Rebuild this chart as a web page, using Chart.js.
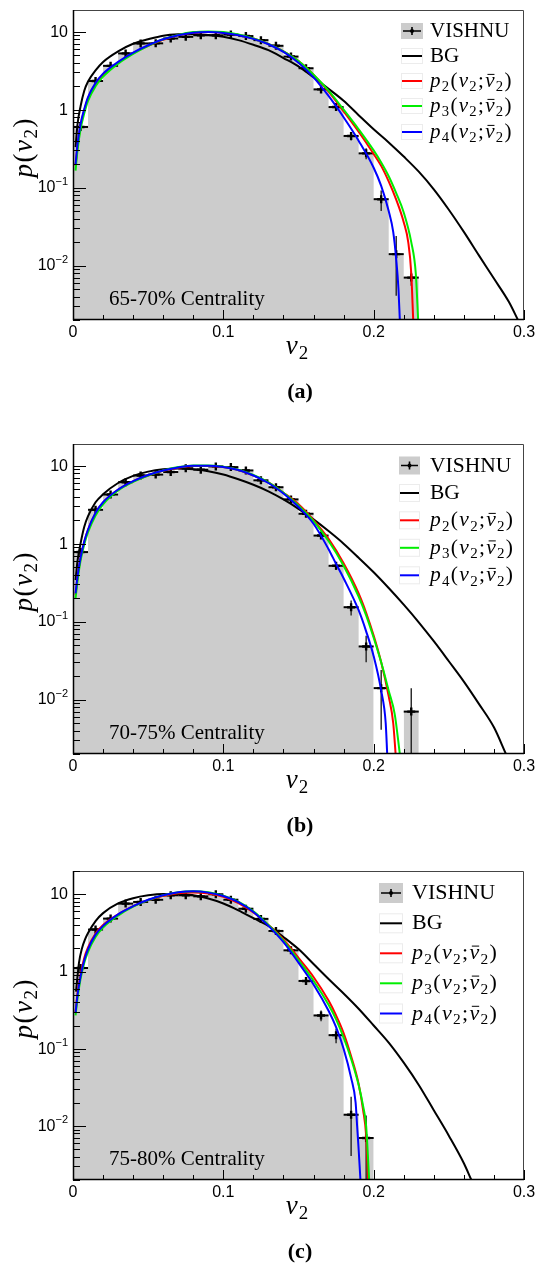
<!DOCTYPE html>
<html>
<head>
<meta charset="utf-8">
<script src="https://cdn.jsdelivr.net/npm/chart.js@4.4.1/dist/chart.umd.min.js"></script>
<style>
  html, body { margin: 0; padding: 0; background: #fff; }
  body { position: relative; width: 538px; height: 1264px; overflow: hidden; }
  canvas { position: absolute; left: 0; }
</style>
</head>
<body>
<canvas id="panelA" width="538" height="434" style="top:0px"></canvas>
<canvas id="panelB" width="538" height="427" style="top:434px"></canvas>
<canvas id="panelC" width="538" height="403" style="top:861px"></canvas>
<script>
const SERIF = '"Liberation Serif", "Times New Roman", serif';
const SANS = '"Liberation Sans", Arial, sans-serif';

// VISHNU event-by-event v2 histograms, 0.01-wide bins
const binEdges = [0, 0.01, 0.02, 0.03, 0.04, 0.05, 0.06, 0.07, 0.08, 0.09, 0.1, 0.11,
                  0.12, 0.13, 0.14, 0.15, 0.16, 0.17, 0.18, 0.19, 0.2, 0.21, 0.22, 0.23];

const vishnuA    = [0.6, 2.33, 3.65, 5.27, 7.08, 7.1, 8.2, 8.6, 9.0, 9.0, 9.2, 8.8, 7.8, 6.6, 4.8, 3.4, 1.82, 1.08, 0.46, 0.275, 0.071, 0.014, 0.007];
const vishnuErrA = [0.06, 0.13, 0.16, 0.19, 0.22, 0.22, 0.24, 0.25, 0.25, 0.25, 0.25, 0.25, 0.23, 0.21, 0.18, 0.15, 0.11, 0.087, 0.057, 0.044, 0.021, 0.0099, 0.0015];

const vishnuB    = [0.78, 2.72, 4.27, 6.15, 7.5, 7.7, 8.3, 9.3, 8.9, 9.8, 9.6, 8.7, 6.5, 5.3, 3.7, 2.42, 1.27, 0.52, 0.153, 0.048, 0.014, 0, 0.007];
const vishnuErrB = [0.074, 0.14, 0.17, 0.21, 0.23, 0.23, 0.24, 0.26, 0.25, 0.26, 0.26, 0.25, 0.21, 0.19, 0.16, 0.13, 0.094, 0.06, 0.033, 0.018, 0.0099, 0, 0.007];

const vishnuC    = [1.11, 3.49, 4.84, 7.57, 7.95, 8.5, 9.7, 9.7, 9.4, 10.0, 8.5, 6.5, 4.8, 3.35, 1.88, 0.755, 0.27, 0.15, 0.014, 0.007];
const vishnuErrC = [0.088, 0.16, 0.18, 0.23, 0.24, 0.24, 0.26, 0.26, 0.26, 0.26, 0.24, 0.21, 0.18, 0.15, 0.11, 0.073, 0.043, 0.032, 0.0099, 0.0067];

// 65-70% fits
const bgA_v = [0.0017, 0.003, 0.005, 0.0075, 0.01, 0.015, 0.02, 0.03, 0.04, 0.05, 0.06, 0.07, 0.08, 0.09, 0.1, 0.11, 0.12, 0.13, 0.14, 0.15, 0.16, 0.17, 0.18, 0.19, 0.2, 0.21, 0.22, 0.23, 0.24, 0.25, 0.26, 0.27, 0.28, 0.29, 0.296];
const bgA_p = [0.33, 0.65, 1.1, 1.75, 2.3, 3.2, 4.1, 5.6, 7.0, 8.0, 8.9, 9.25, 9.3, 9.1, 8.6, 7.8, 6.8, 5.8, 4.6, 3.6, 2.6, 1.85, 1.3, 0.85, 0.56, 0.38, 0.25, 0.16, 0.095, 0.052, 0.027, 0.0135, 0.0068, 0.0034, 0.002];
const p2A_v = [0.0017, 0.003, 0.005, 0.0075, 0.01, 0.015, 0.02, 0.03, 0.04, 0.05, 0.06, 0.07, 0.08, 0.09, 0.1, 0.11, 0.12, 0.13, 0.14, 0.15, 0.16, 0.17, 0.18, 0.19, 0.2, 0.205, 0.21, 0.215, 0.22, 0.223, 0.225, 0.2263];
const p2A_p = [0.19, 0.33, 0.62, 0.98, 1.4, 2.15, 2.8, 4.0, 5.3, 6.6, 7.9, 9.0, 9.7, 9.9, 9.7, 9.1, 8.2, 7.0, 5.6, 4.2, 2.8, 1.7, 0.95, 0.52, 0.27, 0.19, 0.12, 0.07, 0.036, 0.02, 0.008, 0.002];
const p3A_v = [0.0017, 0.003, 0.005, 0.0075, 0.01, 0.015, 0.02, 0.03, 0.04, 0.05, 0.06, 0.07, 0.08, 0.09, 0.1, 0.11, 0.12, 0.13, 0.14, 0.15, 0.16, 0.17, 0.18, 0.19, 0.2, 0.205, 0.21, 0.215, 0.22, 0.225, 0.228, 0.2296];
const p3A_p = [0.165, 0.3, 0.56, 0.9, 1.3, 2.0, 2.65, 3.9, 5.2, 6.6, 8.0, 9.1, 9.9, 10.1, 9.9, 9.2, 8.2, 7.0, 5.6, 4.2, 2.8, 1.75, 1.0, 0.56, 0.3, 0.21, 0.14, 0.085, 0.048, 0.02, 0.008, 0.002];
const p4A_v = [0.0017, 0.003, 0.005, 0.0075, 0.01, 0.015, 0.02, 0.03, 0.04, 0.05, 0.06, 0.07, 0.08, 0.09, 0.1, 0.11, 0.12, 0.13, 0.14, 0.15, 0.16, 0.17, 0.18, 0.19, 0.2, 0.205, 0.21, 0.213, 0.215, 0.2165, 0.2174];
const p4A_p = [0.2, 0.36, 0.65, 1.02, 1.45, 2.2, 2.9, 4.1, 5.4, 6.7, 8.0, 9.0, 9.7, 9.9, 9.6, 9.0, 8.1, 6.9, 5.5, 4.0, 2.6, 1.5, 0.8, 0.4, 0.18, 0.105, 0.05, 0.027, 0.012, 0.005, 0.002];

// 70-75% fits
const bgB_v = [0.0017, 0.003, 0.005, 0.0075, 0.01, 0.015, 0.02, 0.03, 0.04, 0.05, 0.06, 0.07, 0.08, 0.09, 0.1, 0.11, 0.12, 0.13, 0.14, 0.15, 0.16, 0.17, 0.18, 0.19, 0.2, 0.21, 0.22, 0.23, 0.24, 0.25, 0.26, 0.27, 0.28, 0.288];
const bgB_p = [0.34, 0.6, 1.0, 1.65, 2.25, 3.4, 4.3, 6.0, 7.4, 8.4, 9.0, 9.2, 9.0, 8.5, 7.7, 6.7, 5.7, 4.7, 3.7, 2.8, 2.05, 1.45, 1.0, 0.66, 0.43, 0.27, 0.165, 0.098, 0.056, 0.031, 0.017, 0.0088, 0.0044, 0.002];
const p2B_v = [0.0017, 0.003, 0.005, 0.0075, 0.01, 0.015, 0.02, 0.03, 0.04, 0.05, 0.06, 0.07, 0.08, 0.09, 0.1, 0.11, 0.12, 0.13, 0.14, 0.15, 0.16, 0.17, 0.18, 0.19, 0.195, 0.2, 0.205, 0.21, 0.213, 0.2146];
const p2B_p = [0.22, 0.37, 0.65, 1.05, 1.5, 2.45, 3.35, 4.9, 6.3, 7.5, 8.6, 9.4, 9.9, 9.95, 9.6, 8.8, 7.5, 6.1, 4.5, 3.2, 2.0, 1.15, 0.56, 0.23, 0.13, 0.066, 0.03, 0.011, 0.005, 0.002];
const p3B_v = [0.0017, 0.003, 0.005, 0.0075, 0.01, 0.015, 0.02, 0.03, 0.04, 0.05, 0.06, 0.07, 0.08, 0.09, 0.1, 0.11, 0.12, 0.13, 0.14, 0.15, 0.16, 0.17, 0.18, 0.19, 0.195, 0.2, 0.205, 0.21, 0.214, 0.2174];
const p3B_p = [0.2, 0.33, 0.6, 0.98, 1.4, 2.3, 3.2, 4.8, 6.2, 7.5, 8.7, 9.6, 10.1, 10.1, 9.7, 8.9, 7.6, 6.1, 4.5, 3.1, 1.95, 1.08, 0.52, 0.21, 0.12, 0.062, 0.03, 0.013, 0.0065, 0.002];
const p4B_v = [0.0017, 0.003, 0.005, 0.0075, 0.01, 0.015, 0.02, 0.03, 0.04, 0.05, 0.06, 0.07, 0.08, 0.09, 0.1, 0.11, 0.12, 0.13, 0.14, 0.15, 0.16, 0.17, 0.175, 0.18, 0.19, 0.195, 0.2, 0.205, 0.208, 0.209];
const p4B_p = [0.23, 0.38, 0.66, 1.07, 1.52, 2.5, 3.4, 4.95, 6.35, 7.6, 8.7, 9.5, 10.0, 10.0, 9.6, 8.8, 7.5, 6.0, 4.4, 2.95, 1.8, 0.85, 0.55, 0.36, 0.14, 0.075, 0.036, 0.013, 0.005, 0.002];

// 75-80% fits
const bgC_v = [0.002, 0.004, 0.006, 0.008, 0.01, 0.015, 0.02, 0.03, 0.04, 0.05, 0.06, 0.07, 0.08, 0.09, 0.1, 0.11, 0.12, 0.13, 0.14, 0.15, 0.16, 0.17, 0.18, 0.19, 0.2, 0.21, 0.22, 0.23, 0.24, 0.25, 0.26, 0.265];
const bgC_p = [0.55, 1.3, 2.0, 2.6, 3.15, 4.5, 5.7, 7.6, 8.9, 9.7, 10.1, 10.1, 9.7, 8.8, 7.6, 6.2, 4.9, 3.9, 2.8, 1.95, 1.25, 0.8, 0.52, 0.33, 0.2, 0.12, 0.066, 0.034, 0.016, 0.0075, 0.0033, 0.002];
const p2C_v = [0.0017, 0.003, 0.005, 0.0075, 0.01, 0.015, 0.02, 0.03, 0.04, 0.05, 0.06, 0.07, 0.08, 0.09, 0.1, 0.11, 0.12, 0.13, 0.14, 0.15, 0.16, 0.17, 0.175, 0.18, 0.185, 0.19, 0.193, 0.195, 0.1963];
const p2C_p = [0.3, 0.52, 0.9, 1.5, 2.05, 3.1, 4.0, 5.5, 7.0, 8.4, 9.5, 10.3, 10.5, 10.2, 9.3, 7.7, 5.8, 4.0, 2.6, 1.5, 0.85, 0.42, 0.27, 0.16, 0.08, 0.035, 0.016, 0.0075, 0.002];
const p3C_v = [0.0017, 0.003, 0.005, 0.0075, 0.01, 0.015, 0.02, 0.03, 0.04, 0.05, 0.06, 0.07, 0.08, 0.09, 0.1, 0.11, 0.12, 0.13, 0.14, 0.15, 0.16, 0.17, 0.175, 0.18, 0.185, 0.19, 0.193, 0.195, 0.197];
const p3C_p = [0.27, 0.45, 0.8, 1.3, 1.8, 2.8, 3.7, 5.3, 6.9, 8.4, 9.7, 10.6, 10.9, 10.6, 9.6, 8.0, 6.0, 4.0, 2.5, 1.4, 0.76, 0.37, 0.24, 0.14, 0.074, 0.034, 0.018, 0.01, 0.002];
const p4C_v = [0.0017, 0.003, 0.005, 0.0075, 0.01, 0.015, 0.02, 0.03, 0.04, 0.05, 0.06, 0.07, 0.08, 0.09, 0.1, 0.11, 0.12, 0.13, 0.14, 0.15, 0.16, 0.17, 0.175, 0.18, 0.185, 0.188, 0.189, 0.19, 0.1912];
const p4C_p = [0.29, 0.5, 0.86, 1.4, 1.95, 3.0, 3.9, 5.5, 7.0, 8.5, 9.7, 10.6, 10.9, 10.5, 9.5, 7.9, 5.9, 3.9, 2.4, 1.3, 0.68, 0.31, 0.19, 0.1, 0.042, 0.02, 0.01, 0.005, 0.002];

// axes
const X_MIN = 0, X_MAX = 0.3, Y_MIN = 0.002;
const xMajorTicks = [0, 0.1, 0.2, 0.3];
const xTickLabels = ['0', '0.1', '0.2', '0.3'];
const yDecades = [0.01, 0.1, 1, 10];
const yDecadeLabels = [['10', '\u22122'], ['10', '\u22121'], ['1', ''], ['10', '']];

// legend / title text as styled runs
const pn = n => [{t: 'p', it: 1}, {t: n, sub: 1}, {t: '('}, {t: 'v', it: 1}, {t: '2', sub: 1},
                 {t: ';'}, {t: 'v', it: 1, bar: 1}, {t: '2', sub: 1}, {t: ')'}];
const legendEntries = [
  {kind: 'hist', text: [{t: 'VISHNU'}]},
  {kind: 'line', color: '#000000', text: [{t: 'BG'}]},
  {kind: 'line', color: '#ff0000', text: pn('2')},
  {kind: 'line', color: '#00ee00', text: pn('3')},
  {kind: 'line', color: '#0000ff', text: pn('4')}
];
const yTitle = [{t: 'p', it: 1}, {t: '('}, {t: 'v', it: 1}, {t: '2', sub: 1}, {t: ')'}];
const xTitle = [{t: 'v', it: 1}, {t: '2', sub: 1}];

function segFont(s, size) {
  const sz = s.sub ? size * 0.7 : size;
  return (s.it ? 'italic ' : '') + (s.bold ? 'bold ' : '') + sz.toFixed(1) + 'px ' + SERIF;
}
function richWidth(ctx, segs, size, gap) {
  let w = 0;
  segs.forEach((s, i) => {
    ctx.font = segFont(s, size);
    w += ctx.measureText(s.t).width + (i < segs.length - 1 ? gap : 0);
  });
  return w;
}
function drawRich(ctx, segs, x, y, size, gap) {
  ctx.fillStyle = '#000';
  ctx.textAlign = 'left';
  ctx.textBaseline = 'alphabetic';
  let cx = x;
  segs.forEach(s => {
    ctx.font = segFont(s, size);
    const w = ctx.measureText(s.t).width;
    ctx.fillText(s.t, cx, s.sub ? y + size * 0.2 : y);
    if (s.bar) {
      ctx.strokeStyle = '#000';
      ctx.lineWidth = 1;
      ctx.beginPath();
      ctx.moveTo(cx + w * 0.25, y - size * 0.6);
      ctx.lineTo(cx + w * 1.0, y - size * 0.6);
      ctx.stroke();
    }
    cx += w + gap;
  });
}

const pts = (xs, ys) => xs.map((x, i) => ({x, y: ys[i]}));
function histPoints(vals) {
  const out = vals.map((v, i) => ({x: binEdges[i], y: v}));
  out.push({x: binEdges[vals.length], y: vals[vals.length - 1]});
  return out;
}
function markerPoints(vals) {
  return vals.map((v, i) => ({x: (binEdges[i] + binEdges[i + 1]) / 2, y: v > 0 ? v : null}));
}

function makeDecor(p) {
  return {
    id: 'decor_' + p.id,
    afterDatasetDraw(chart, args) {
      if (args.index !== 0) return;
      // bin-width and statistical error bars on the VISHNU histogram
      const ctx = chart.ctx, ca = chart.chartArea, xs = chart.scales.x, ys = chart.scales.y;
      ctx.save();
      ctx.beginPath();
      ctx.rect(ca.left, ca.top, ca.right - ca.left, ca.bottom - ca.top);
      ctx.clip();
      p.vals.forEach((v, i) => {
        if (!(v > 0)) return;
        const lo = binEdges[i], hi = binEdges[i + 1], e = p.errs[i];
        const px = xs.getPixelForValue((lo + hi) / 2), py = ys.getPixelForValue(v);
        ctx.strokeStyle = '#000';
        ctx.lineWidth = 2;
        ctx.beginPath();
        ctx.moveTo(xs.getPixelForValue(lo), py);
        ctx.lineTo(xs.getPixelForValue(hi), py);
        ctx.stroke();
        const top = ys.getPixelForValue(v + e);
        const bot = v - e > 1e-9 ? ys.getPixelForValue(v - e) : ca.bottom;
        ctx.strokeStyle = '#222';
        ctx.lineWidth = 1.4;
        ctx.beginPath();
        ctx.moveTo(px, top);
        ctx.lineTo(px, bot);
        ctx.stroke();
      });
      ctx.restore();
    },
    afterDraw(chart) {
      const ctx = chart.ctx, ca = chart.chartArea, xs = chart.scales.x, ys = chart.scales.y;
      ctx.save();

      // frame
      ctx.strokeStyle = '#444';
      ctx.lineWidth = 1;
      ctx.beginPath();
      ctx.moveTo(ca.left, ca.top + 0.5);
      ctx.lineTo(ca.right - 0.5, ca.top + 0.5);
      ctx.lineTo(ca.right - 0.5, ca.bottom);
      ctx.stroke();
      ctx.strokeStyle = '#000';
      ctx.lineWidth = 1.5;
      ctx.beginPath();
      ctx.moveTo(ca.left + 0.5, ca.top);
      ctx.lineTo(ca.left + 0.5, ca.bottom - 0.5);
      ctx.lineTo(ca.right, ca.bottom - 0.5);
      ctx.stroke();

      // x ticks (inside), major every 0.1, minor every 0.02
      ctx.lineWidth = 1;
      for (let k = 1; k <= 15; k++) {
        const x = Math.round(xs.getPixelForValue(k * 0.02)) + 0.5;
        const len = k % 5 === 0 ? 10 : 5;
        ctx.beginPath();
        ctx.moveTo(x, ca.bottom);
        ctx.lineTo(x, ca.bottom - len);
        ctx.stroke();
      }
      // y ticks (inside), log decades with 2..9 minors
      for (let e = -3; e <= 1; e++) {
        for (let d = 1; d <= 9; d++) {
          const v = d * Math.pow(10, e);
          if (v < ys.min * 0.999 || v > ys.max) continue;
          const y = Math.round(ys.getPixelForValue(v)) + 0.5;
          ctx.beginPath();
          ctx.moveTo(ca.left, y);
          ctx.lineTo(ca.left + (d === 1 ? 13 : 7), y);
          ctx.stroke();
        }
      }

      // tick labels
      ctx.fillStyle = '#000';
      ctx.font = '16px ' + SANS;
      ctx.textAlign = 'center';
      ctx.textBaseline = 'middle';
      xMajorTicks.forEach((v, i) => ctx.fillText(xTickLabels[i], xs.getPixelForValue(v), ca.bottom + 12.5));
      yDecades.forEach((v, i) => {
        const y = ys.getPixelForValue(v);
        const [base, exp] = yDecadeLabels[i];
        const right = ca.left - 5;
        ctx.textAlign = 'right';
        let supW = 0;
        if (exp) {
          ctx.font = '11px ' + SANS;
          supW = ctx.measureText(exp).width;
          ctx.fillText(exp, right, y - 6);
        }
        ctx.font = '16px ' + SANS;
        ctx.fillText(base, right - supW, y + 0.5);
      });

      // axis titles
      ctx.save();
      ctx.translate(32, ca.top + 138);
      ctx.rotate(-Math.PI / 2);
      const wy = richWidth(ctx, yTitle, 27, 1.5);
      drawRich(ctx, yTitle, -wy / 2, 0, 27, 1.5);
      ctx.restore();
      const wx = richWidth(ctx, xTitle, 27, 1);
      drawRich(ctx, xTitle, 297 - wx / 2, ca.bottom + 34, 27, 1);

      // panel tag
      ctx.font = 'bold 22px ' + SERIF;
      ctx.textAlign = 'center';
      ctx.textBaseline = 'alphabetic';
      ctx.fillStyle = '#000';
      ctx.fillText(p.tag, 300, ca.bottom + 78);

      // centrality label
      ctx.font = '21px ' + SERIF;
      ctx.textAlign = 'left';
      ctx.fillText(p.cent, 109, ca.bottom - 15);

      // legend
      legendEntries.forEach((en, i) => {
        const yc = p.legY[i], x0 = p.legX, w = p.legW, h = p.legH;
        if (en.kind === 'hist') {
          ctx.fillStyle = '#cccccc';
          ctx.fillRect(x0, yc - h / 2, w, h);
          ctx.strokeStyle = '#000';
          ctx.lineWidth = 1.6;
          ctx.beginPath();
          ctx.moveTo(x0 + 2, yc); ctx.lineTo(x0 + w - 2, yc);
          ctx.moveTo(x0 + w / 2, yc - 4); ctx.lineTo(x0 + w / 2, yc + 4);
          ctx.stroke();
          ctx.fillStyle = '#000';
          ctx.beginPath(); ctx.arc(x0 + w / 2, yc, 2, 0, Math.PI * 2); ctx.fill();
        } else {
          ctx.strokeStyle = '#ececec';
          ctx.lineWidth = 1;
          ctx.strokeRect(x0 + 0.5, yc - h / 2 + 0.5, w - 1, h - 1);
          ctx.strokeStyle = en.color;
          ctx.lineWidth = 2;
          ctx.beginPath();
          ctx.moveTo(x0 + 1, yc); ctx.lineTo(x0 + w - 1, yc);
          ctx.stroke();
        }
        drawRich(ctx, en.text, p.legTX, yc + 6, p.legFont, 1.3);
      });

      ctx.restore();
    }
  };
}

const panels = [
  {id: 'panelA', height: 434, plotH: 310, yMax: 19, vals: vishnuA, errs: vishnuErrA,
   curves: [[bgA_v, bgA_p], [p2A_v, p2A_p], [p3A_v, p3A_p], [p4A_v, p4A_p]],
   tag: '(a)', cent: '65-70% Centrality',
   legY: [31, 56, 81, 106, 132], legX: 401, legW: 22, legH: 16, legTX: 430, legFont: 21},
  {id: 'panelB', height: 427, plotH: 310, yMax: 19, vals: vishnuB, errs: vishnuErrB,
   curves: [[bgB_v, bgB_p], [p2B_v, p2B_p], [p3B_v, p3B_p], [p4B_v, p4B_p]],
   tag: '(b)', cent: '70-75% Centrality',
   legY: [31.5, 59, 86.3, 113.8, 141.3], legX: 399, legW: 21, legH: 18, legTX: 430, legFont: 21.5},
  {id: 'panelC', height: 403, plotH: 309, yMax: 20, vals: vishnuC, errs: vishnuErrC,
   curves: [[bgC_v, bgC_p], [p2C_v, p2C_p], [p3C_v, p3C_p], [p4C_v, p4C_p]],
   tag: '(c)', cent: '75-80% Centrality',
   legY: [32, 62.3, 92.3, 122.3, 152.5], legX: 379, legW: 24, legH: 20, legTX: 412, legFont: 22}
];

const curveStyle = [
  {label: 'BG', color: '#000000', order: 4},
  {label: 'p2', color: '#ff0000', order: 3},
  {label: 'p3', color: '#00ee00', order: 2},
  {label: 'p4', color: '#0000ff', order: 1}
];

panels.forEach(p => {
  const datasets = [
    {label: 'VISHNU', data: histPoints(p.vals), stepped: 'before', borderWidth: 0,
     borderColor: 'rgba(0,0,0,0)', backgroundColor: '#cccccc', fill: {value: Y_MIN},
     pointRadius: 0, order: 6},
    {label: 'VISHNU points', data: markerPoints(p.vals), showLine: false, pointStyle: 'cross',
     pointRadius: 4, pointBorderWidth: 2.4, pointBorderColor: '#000', pointBackgroundColor: '#000',
     order: 5}
  ];
  p.curves.forEach((c, i) => {
    datasets.push({
      label: curveStyle[i].label, data: pts(c[0], c[1]), borderColor: curveStyle[i].color,
      borderWidth: 2, pointRadius: 0, fill: false, cubicInterpolationMode: 'monotone',
      order: curveStyle[i].order
    });
  });
  new Chart(document.getElementById(p.id), {
    type: 'line',
    data: {datasets},
    options: {
      responsive: false,
      animation: false,
      devicePixelRatio: 1,
      events: [],
      parsing: true,
      layout: {padding: {left: 73, right: 14, top: 10, bottom: p.height - 10 - p.plotH}},
      scales: {
        x: {type: 'linear', min: X_MIN, max: X_MAX, display: false},
        y: {type: 'logarithmic', min: Y_MIN, max: p.yMax, display: false}
      },
      plugins: {legend: {display: false}, tooltip: {enabled: false}}
    },
    plugins: [makeDecor(p)]
  });
});
</script>
</body>
</html>
